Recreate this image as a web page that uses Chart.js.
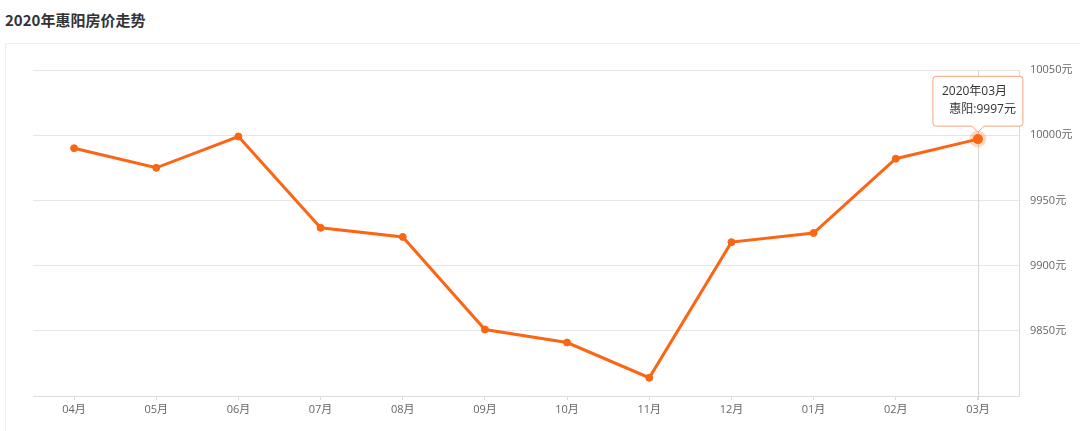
<!DOCTYPE html>
<html>
<head>
<meta charset="utf-8">
<script src="https://cdn.jsdelivr.net/npm/chart.js@4.4.0/dist/chart.umd.min.js"></script>
<style>
  html, body { margin: 0; padding: 0; background: #fff; }
  body { width: 1080px; height: 431px; position: relative; overflow: hidden; font-family: "Open Sans", "Noto Sans CJK SC", sans-serif; }
  #titulo { position: absolute; left: 5px; top: 9px; font-size: 15px; font-weight: bold; color: #333; font-family: "Noto Sans CJK SC", sans-serif; }
  #marco { position: absolute; left: 5px; top: 43px; width: 1200px; height: 500px; border-left: 1px solid #eee; border-top: 1px solid #eee; }
  #precioChart { position: absolute; left: 0; top: 0; }
</style>
</head>
<body>
<div id="titulo">2020年惠阳房价走势</div>
<div id="marco"></div>
<canvas id="precioChart" width="1080" height="431"></canvas>
<script>
// Datos (meses, año de cada mes, precio medio en 元)
var meses = ['04月', '05月', '06月', '07月', '08月', '09月', '10月', '11月', '12月', '01月', '02月', '03月'];
var anios = ['2019', '2019', '2019', '2019', '2019', '2019', '2019', '2019', '2019', '2020', '2020', '2020'];
var precios = [9990, 9975, 9999, 9929, 9922, 9851, 9841, 9814, 9918, 9925, 9982, 9997];
var minY = 9800;
var ticksY = [9850, 9900, 9950, 10000, 10050];
var nombreSerie = '惠阳';

var naranja = '#fa6614';
var fuente = '"Open Sans", "Noto Sans CJK SC", sans-serif';
var ultimo = precios.length - 1;

// linea vertical en el punto activo
var lineaCruz = {
    id: 'lineaCruz',
    beforeDatasetsDraw: function (chart) {
        var pt = chart.getDatasetMeta(0).data[ultimo];
        var ctx = chart.ctx;
        ctx.save();
        ctx.strokeStyle = '#d6d6d6';
        ctx.lineWidth = 1;
        ctx.beginPath();
        ctx.moveTo(Math.round(pt.x) + 0.5, chart.chartArea.top);
        ctx.lineTo(Math.round(pt.x) + 0.5, chart.chartArea.bottom + 4);
        ctx.stroke();
        ctx.restore();
    },
    // ancho fijo del tooltip, centrado sobre el punto
    beforeTooltipDraw: function (chart, args) {
        var t = args.tooltip;
        t.width = 90;
        t.x = t.caretX - t.width / 2;
    }
};

var precioConfig = {
    type: 'line',
    data: {
        labels: meses,
        datasets: [{
            label: nombreSerie,
            data: precios,
            borderColor: naranja,
            backgroundColor: naranja,
            borderWidth: 3,
            tension: 0,
            pointRadius: 3.5,
            pointBackgroundColor: naranja,
            pointBorderColor: naranja,
            pointBorderWidth: 1,
            pointHoverRadius: 5,
            pointHoverBackgroundColor: naranja,
            pointHoverBorderColor: 'rgba(250, 102, 20, 0.25)',
            pointHoverBorderWidth: 7
        }]
    },
    options: {
        responsive: false,
        animation: false,
        events: [],
        layout: { padding: { left: 33, top: 70, right: 0, bottom: 0 } },
        plugins: {
            legend: { display: false },
            tooltip: {
                enabled: true,
                backgroundColor: '#fff',
                borderColor: '#f2a47a',
                borderWidth: 1,
                cornerRadius: 3,
                titleColor: '#333',
                bodyColor: '#333',
                titleFont: { family: fuente, size: 12, weight: 'normal' },
                bodyFont: { family: fuente, size: 12 },
                titleAlign: 'left',
                bodyAlign: 'right',
                titleMarginBottom: 4,
                padding: { top: 8, bottom: 9, left: 9, right: 7 },
                displayColors: false,
                xAlign: 'center',
                yAlign: 'bottom',
                caretSize: 6,
                caretPadding: 7,
                callbacks: {
                    title: function (items) {
                        var i = items[0].dataIndex;
                        return anios[i] + '年' + meses[i];
                    },
                    label: function (item) {
                        return nombreSerie + ':' + item.raw + '元';
                    }
                }
            }
        },
        scales: {
            x: {
                offset: true,
                grid: { display: true, drawOnChartArea: false, offset: false, color: '#dcdcdc', tickLength: 4 },
                border: { display: true, color: '#dcdcdc' },
                ticks: { color: '#666', font: { family: fuente, size: 11 }, padding: 3 },
                afterFit: function (s) { s.height = 35; }
            },
            y: {
                position: 'right',
                min: minY,
                max: ticksY[ticksY.length - 1],
                afterBuildTicks: function (s) { s.ticks = ticksY.map(function (v) { return { value: v }; }); },
                grid: { color: '#e6e6e6', drawTicks: false },
                border: { display: true, color: '#dcdcdc' },
                ticks: {
                    color: '#666',
                    font: { family: fuente, size: 11 },
                    padding: 11,
                    callback: function (v) { return v + '元'; }
                },
                afterFit: function (s) { s.width = 61; }
            }
        }
    },
    plugins: [lineaCruz]
};

var ctxPrecio = document.getElementById('precioChart').getContext('2d');
var precioChart = new Chart(ctxPrecio, precioConfig);

// dejar activo el último punto con su tooltip
var pt = precioChart.getDatasetMeta(0).data[ultimo];
precioChart.setActiveElements([{ datasetIndex: 0, index: ultimo }]);
precioChart.tooltip.setActiveElements([{ datasetIndex: 0, index: ultimo }], { x: pt.x, y: pt.y });
precioChart.update();
</script>
</body>
</html>
